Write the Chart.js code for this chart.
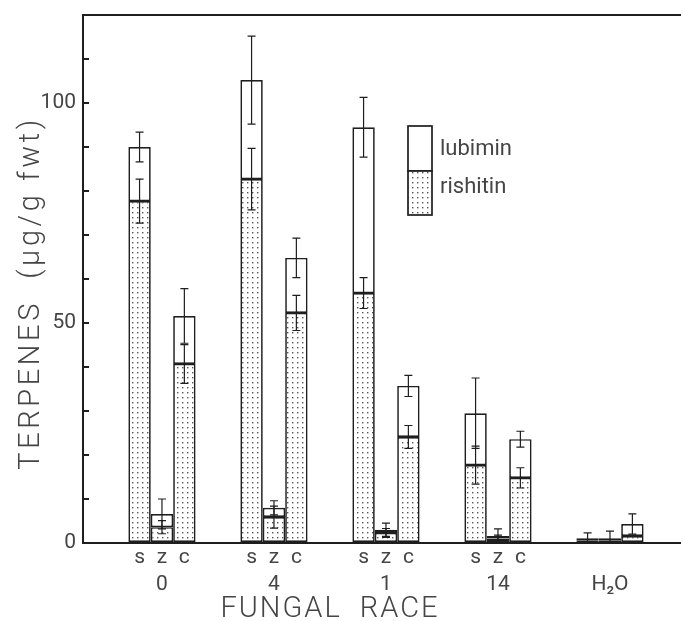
<!DOCTYPE html>
<html lang="en">
<head>
<meta charset="UTF-8">
<title>Terpenes by fungal race</title>
<script src="https://cdn.jsdelivr.net/npm/chart.js"></script>
<style>
    body { margin: 0; background: #fff; }
    #chart { display: block; }
</style>
</head>
<body>
<canvas id="chart" width="681" height="621"></canvas>
<script>
// fungal races, last group is the water control
const races = ['0', '4', '1', '14', 'H₂O'];
const subLabels = [['s', 'z', 'c'], ['s', 'z', 'c'], ['s', 'z', 'c'], ['s', 'z', 'c'], ['', '', '']];

// rishitin (dotted, bottom) and lubimin (white, stacked on top), µg/g fwt
const rishitinS = [77.7, 82.7, 56.8, 17.7, 0.6];
const lubiminS  = [12.3, 22.5, 37.7, 11.8, 0.5];
const rishitinZ = [3.6, 5.9, 2.3, 1.0, 0.6];
const lubiminZ  = [3.0, 2.1, 0.7, 0.6, 0.5];
const rishitinC = [40.7, 52.3, 24.1, 14.8, 1.6];
const lubiminC  = [10.9, 12.5, 11.6, 8.8, 2.7];

// +/- error at the top of each segment
const rishitinErrS = [5.0, 7.0, 3.5, 4.3, 0];
const lubiminErrS  = [3.4, 10.0, 6.8, 8.0, 1.2];
const rishitinErrZ = [1.5, 2.5, 1.0, 0.8, 0];
const lubiminErrZ  = [3.4, 1.6, 1.5, 1.6, 1.6];
const rishitinErrC = [4.4, 4.0, 2.6, 2.3, 0];
const lubiminErrC  = [6.2, 4.5, 2.4, 1.8, 2.3];

const yTicks = [0, 50, 100];

const ink = '#1e1e1e';
const textInk = '#454545';
const family = 'Roboto, "DejaVu Sans", sans-serif';
const legendBox = { x: 408, y: 126, w: 24, h: 45 };

// dotted fill used for rishitin
function dotPattern() {
    const c = document.createElement('canvas');
    c.width = 5; c.height = 5;
    const g = c.getContext('2d');
    g.fillStyle = '#fff';
    g.fillRect(0, 0, 5, 5);
    g.fillStyle = '#555';
    g.fillRect(2, 2, 1.4, 1.4);
    return g.createPattern(c, 'repeat');
}
const dots = dotPattern();

function pts(arr) {
    return arr.map((v, i) => ({ x: i, y: v }));
}

function series(label, values, errors, stack, letter) {
    const isRish = label === 'rishitin';
    return {
        label: label,
        data: pts(values),
        errors: errors,
        stack: stack,
        letter: letter,
        backgroundColor: isRish ? dots : '#fff',
        borderColor: ink,
        borderWidth: 1.7,
        borderSkipped: false
    };
}

const extras = {
    id: 'extras',
    afterDatasetsDraw(chart) {
        const ctx = chart.ctx;
        const y = chart.scales.y;
        const area = chart.chartArea;
        ctx.save();
        // error bars
        ctx.strokeStyle = ink;
        ctx.lineWidth = 1.2;
        chart.data.datasets.forEach((ds, i) => {
            chart.getDatasetMeta(i).data.forEach((bar, j) => {
                const e = ds.errors[j];
                if (!e) return;
                const top = y.getValueForPixel(bar.y);
                const y1 = y.getPixelForValue(top + e);
                const y2 = y.getPixelForValue(Math.max(0, top - e));
                ctx.beginPath();
                ctx.moveTo(bar.x, y1); ctx.lineTo(bar.x, y2);
                ctx.moveTo(bar.x - 4, y1); ctx.lineTo(bar.x + 4, y1);
                if (top - e > 0) { ctx.moveTo(bar.x - 4, y2); ctx.lineTo(bar.x + 4, y2); }
                ctx.stroke();
            });
        });
        // s / z / c under each bar
        ctx.fillStyle = textInk;
        ctx.font = '21px ' + family;
        ctx.textAlign = 'center';
        ctx.textBaseline = 'alphabetic';
        chart.data.datasets.forEach((ds, i) => {
            if (ds.letter === undefined) return;
            chart.getDatasetMeta(i).data.forEach((bar, j) => {
                ctx.fillText(subLabels[j][ds.letter], bar.x, area.bottom + 20);
            });
        });
        ctx.restore();
    },
    afterDraw(chart) {
        const ctx = chart.ctx;
        const x = chart.scales.x;
        const area = chart.chartArea;
        ctx.save();
        // legend: one split box
        const b = legendBox;
        ctx.lineWidth = 1.7;
        ctx.strokeStyle = ink;
        ctx.fillStyle = '#fff';
        ctx.fillRect(b.x, b.y, b.w, b.h);
        ctx.strokeRect(b.x, b.y, b.w, b.h);
        ctx.fillStyle = dots;
        ctx.fillRect(b.x, b.y + b.h, b.w, b.h - 1);
        ctx.strokeRect(b.x, b.y + b.h, b.w, b.h - 1);
        ctx.fillStyle = textInk;
        ctx.font = '22px ' + family;
        ctx.textAlign = 'left';
        ctx.textBaseline = 'middle';
        ctx.fillText('lubimin', b.x + b.w + 8, b.y + 23);
        ctx.fillText('rishitin', b.x + b.w + 8, b.y + 61);
        // axis titles, letter-spaced like the stencil lettering
        ctx.font = '300 29px ' + family;
        ctx.letterSpacing = '2px';
        ctx.textAlign = 'center';
        const cx = (x.getPixelForValue(0) + x.getPixelForValue(3)) / 2;
        ctx.fillText('FUNGAL  RACE', cx, area.bottom + 67);
        ctx.letterSpacing = '3.6px';
        ctx.translate(32, (area.top + area.bottom) / 2 + 14);
        ctx.rotate(-Math.PI / 2);
        ctx.fillText('TERPENES  (µg/g fwt)', 0, 0);
        ctx.restore();
    }
};

new Chart(document.getElementById('chart'), {
    type: 'bar',
    data: {
        datasets: [
            series('rishitin', rishitinS, rishitinErrS, 'S', 0),
            series('lubimin', lubiminS, lubiminErrS, 'S'),
            series('rishitin', rishitinZ, rishitinErrZ, 'Z', 1),
            series('lubimin', lubiminZ, lubiminErrZ, 'Z'),
            series('rishitin', rishitinC, rishitinErrC, 'C', 2),
            series('lubimin', lubiminC, lubiminErrC, 'C')
        ]
    },
    options: {
        responsive: false,
        animation: false,
        devicePixelRatio: 1,
        layout: { padding: { top: 15, right: 0, bottom: 0, left: 0 } },
        datasets: { bar: { categoryPercentage: 0.6, barPercentage: 1 } },
        plugins: { legend: { display: false }, tooltip: { enabled: false } },
        scales: {
            x: {
                type: 'linear',
                offset: false,
                min: -0.705,
                max: 4.634,
                afterBuildTicks: s => { s.ticks = races.map((r, i) => ({ value: i })); },
                afterFit: s => { s.height = 78; s.paddingLeft = 0; s.paddingRight = 0; },
                grid: { display: false },
                border: { display: true, color: ink, width: 2 },
                ticks: {
                    autoSkip: false,
                    maxRotation: 0,
                    padding: 21,
                    color: textInk,
                    font: { family: family, size: 21 },
                    callback: v => races[v]
                }
            },
            x2: {
                type: 'linear',
                position: 'top',
                min: 0,
                max: 1,
                afterFit: s => { s.height = 0; },
                grid: { display: false },
                border: { display: true, color: ink, width: 2 },
                ticks: { display: false }
            },
            y: {
                stacked: true,
                min: 0,
                max: 120,
                afterFit: s => { s.width = 83; s.paddingTop = 0; s.paddingBottom = 0; },
                grid: { drawOnChartArea: false, tickLength: -6, color: ink, lineWidth: 2 },
                border: { display: true, color: ink, width: 2 },
                ticks: {
                    stepSize: 10,
                    padding: 13,
                    color: textInk,
                    font: { family: family, size: 21 },
                    callback: v => yTicks.includes(v) ? v : ''
                }
            }
        }
    },
    plugins: [extras]
});
</script>
</body>
</html>
